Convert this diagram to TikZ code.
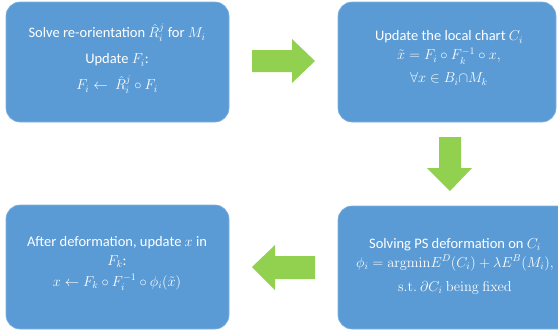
\documentclass[tikz,border=0pt]{standalone}
\usepackage{amsmath}
\usepackage[no-math]{fontspec}
\setmainfont{Carlito}
\definecolor{boxblue}{HTML}{5B9BD5}
\definecolor{boxedge}{HTML}{7FB0DE}
\definecolor{arrgreen}{HTML}{92D050}
\begin{document}
\begin{tikzpicture}[x=1pt,y=-1pt,
  box/.style={rectangle, fill=boxblue, draw=boxedge, line width=0.6pt, rounded corners=14pt, inner sep=0pt},
  boxtext/.style={text=white, align=center, font=\fontsize{14.5}{17}\selectfont, inner sep=0pt},
  blockarrow/.style={fill=arrgreen, draw=none}]
\useasboundingbox (0,0) rectangle (558,333);
\clip (0,0) rectangle (558,333);
\node[box, minimum width=223pt, minimum height=120pt] (b1) at (117.5,62) {};
\node[box, minimum width=218pt, minimum height=120pt] (b2) at (447,62) {};
\node[box, minimum width=236pt, minimum height=123pt] (b3) at (456,267.5) {};
\node[box, minimum width=223pt, minimum height=124pt] (b4) at (117.5,267) {};
\node[boxtext] (t1) at (117,59)
  {Solve re-orientation $\hat{R}_i^j$ for $M_i$\\[9pt]
   Update $F_i$:\\[9pt]
   $F_i \leftarrow\ \hat{R}_i^j \circ F_i$};
\node[boxtext] (t2) at (449,58)
  {Update the local chart $C_i$\\[2pt]
   $\tilde{x} = F_i \circ F_k^{-1} \circ x,$\\[6pt]
   $\forall x \in B_i {\cap} M_k$};
\node[boxtext] (t3) at (455,266)
  {Solving PS deformation on $C_i$\\[2pt]
   $\phi_i = \mathrm{argmin} E^D(C_i) + \lambda E^B(M_i),$\\[7pt]
   $\mathrm{s.t.}\ \partial C_i\ \mathrm{being\ fixed}$};
\node[boxtext] (t4) at (117,263)
  {After deformation, update $x$ in\\[2pt]
   $F_k$:\\[4pt]
   $x \leftarrow F_k \circ F_i^{-1} \circ \phi_i(\tilde{x})$};
% right arrow b1 -> b2
\fill[blockarrow] (252,50) -- (292,50) -- (292,39) -- (315,61) -- (292,83) -- (292,72) -- (252,72) -- cycle;
% down arrow b2 -> b3
\fill[blockarrow] (439,137) -- (461,137) -- (461,168) -- (472,168) -- (450,191) -- (427,168) -- (439,168) -- cycle;
% left arrow b3 -> b4
\fill[blockarrow] (315,256) -- (275,256) -- (275,245) -- (252,267) -- (275,290) -- (275,279) -- (315,279) -- cycle;
\end{tikzpicture}
\end{document}
